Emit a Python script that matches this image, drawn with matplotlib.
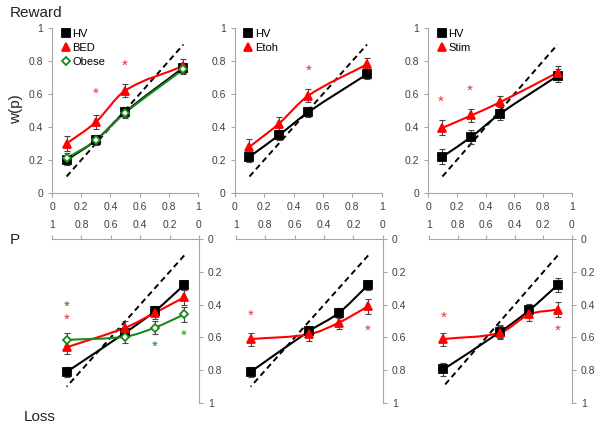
import numpy as np
import matplotlib
matplotlib.use("Agg")
import matplotlib.pyplot as plt
from matplotlib.path import Path
from matplotlib.patches import PathPatch
from matplotlib.ticker import FuncFormatter, MultipleLocator

plt.rcParams['font.family'] = ['Liberation Sans', 'DejaVu Sans']

# %% data: probabilities and weighted probabilities
p = [0.1, 0.3, 0.5, 0.9]

# reward (gains)
gain_hv_bed = [0.20, 0.32, 0.49, 0.76]
gain_bed = [0.30, 0.43, 0.62, 0.77]
gain_obese = [0.21, 0.32, 0.485, 0.75]
gain_hv_etoh = [0.22, 0.35, 0.49, 0.72]
gain_etoh = [0.28, 0.42, 0.59, 0.78]
gain_hv_stim = [0.22, 0.34, 0.48, 0.71]
gain_stim = [0.395, 0.47, 0.55, 0.73]

# loss
loss_hv_bed = [0.28, 0.44, 0.57, 0.81]
loss_bed = [0.355, 0.45, 0.54, 0.66]
loss_obese = [0.46, 0.54, 0.595, 0.615]
loss_hv_etoh = [0.28, 0.45, 0.56, 0.81]
loss_etoh = [0.41, 0.51, 0.58, 0.61]
loss_hv_stim = [0.28, 0.435, 0.565, 0.795]
loss_stim = [0.43, 0.46, 0.57, 0.61]

# error bars
err_small = [0.03, 0.03, 0.03, 0.03]
err_big = [0.045, 0.04, 0.04, 0.04]

# significance stars (p, w, colour)
stars_gain_bed = [(0.3, 0.60, 'r'), (0.5, 0.77, 'r')]
stars_gain_etoh = [(0.5, 0.74, 'r')]
stars_gain_stim = [(0.09, 0.555, 'r'), (0.29, 0.62, 'r')]
stars_loss_bed = [(0.9, 0.41, 'g'), (0.9, 0.49, 'r'), (0.3, 0.655, 'g'), (0.1, 0.59, 'g')]
stars_loss_etoh = [(0.9, 0.47, 'r'), (0.1, 0.56, 'r')]
stars_loss_stim = [(0.9, 0.48, 'r'), (0.1, 0.56, 'r')]

GREY = '#a6a6a6'
TXT = '#404040'
GREEN = '#1a8a1a'


def smooth(ax, x, y, color):
    # smoothed line through the points (hermite -> bezier)
    x = np.asarray(x, float)
    y = np.asarray(y, float)
    n = len(x)
    m = np.empty(n)
    m[0] = (y[1] - y[0]) / (x[1] - x[0])
    m[-1] = (y[-1] - y[-2]) / (x[-1] - x[-2])
    for i in range(1, n - 1):
        m[i] = (y[i + 1] - y[i - 1]) / (x[i + 1] - x[i - 1])
    verts = [(x[0], y[0])]
    codes = [Path.MOVETO]
    for i in range(n - 1):
        h = (x[i + 1] - x[i]) / 3
        verts += [(x[i] + h, y[i] + m[i] * h), (x[i + 1] - h, y[i + 1] - m[i + 1] * h),
                  (x[i + 1], y[i + 1])]
        codes += [Path.CURVE4] * 3
    ax.add_patch(PathPatch(Path(verts, codes), fill=False, ec=color, lw=1.5, zorder=2))


def series(ax, y, err, color, marker, label, mfc=None, ms=5.5):
    smooth(ax, p, y, color)
    ax.errorbar(p, y, yerr=err, fmt='none', ecolor='#444444', elinewidth=0.8,
                capsize=2, capthick=0.8, zorder=3)
    ax.plot(p, y, ls='none', marker=marker, color=color, ms=ms,
            mfc=mfc if mfc else color, mew=1.3, label=label, zorder=4)


def style(ax, loss=False):
    ax.set_xlim(0, 1)
    ax.set_ylim(0, 1)
    ax.xaxis.set_major_locator(MultipleLocator(0.2))
    ax.yaxis.set_major_locator(MultipleLocator(0.2))
    fmt = FuncFormatter(lambda v, _: '%g' % round(v, 2))
    ax.xaxis.set_major_formatter(fmt)
    ax.yaxis.set_major_formatter(fmt)
    for s in ax.spines.values():
        s.set_color(GREY)
    if loss:
        ax.invert_xaxis()
        ax.invert_yaxis()
        ax.spines['bottom'].set_visible(False)
        ax.spines['left'].set_visible(False)
        ax.xaxis.tick_top()
        ax.yaxis.tick_right()
    else:
        ax.spines['top'].set_visible(False)
        ax.spines['right'].set_visible(False)
    ax.tick_params(colors=GREY, labelcolor=TXT, labelsize=7.5, length=3, width=0.8)
    ax.plot([0.1, 0.9], [0.1, 0.9], ls='--', color='k', lw=1.4, dashes=(3, 2), zorder=1)


def stars(ax, lst):
    for x, y, c in lst:
        ax.text(x, y, '*', color={'r': '#e8303a', 'g': GREEN}[c], fontsize=11,
                ha='center', va='center', zorder=5)


def legend(ax):
    ax.legend(loc='upper left', bbox_to_anchor=(0.04, 1.02), frameon=False,
              handlelength=0.6, handletextpad=0.3, fontsize=8, labelspacing=0.35,
              borderaxespad=0)


fig = plt.figure(figsize=(6.02, 4.28), dpi=100)

top_rects = [(0.0864, 0.549, 0.2425, 0.3855), (0.390, 0.549, 0.244, 0.3855),
             (0.711, 0.549, 0.239, 0.3855)]
bot_rects = [(0.0864, 0.0584, 0.244, 0.383), (0.392, 0.0584, 0.244, 0.383),
             (0.7126, 0.0584, 0.2375, 0.383)]

# reward row
ax = fig.add_axes(top_rects[0])
style(ax)
series(ax, gain_hv_bed, err_small, 'k', 's', 'HV')
series(ax, gain_bed, err_big, 'r', '^', 'BED')
series(ax, gain_obese, err_small, GREEN, 'D', 'Obese', mfc='white', ms=4.5)
stars(ax, stars_gain_bed)
legend(ax)

ax = fig.add_axes(top_rects[1])
style(ax)
series(ax, gain_hv_etoh, err_small, 'k', 's', 'HV')
series(ax, gain_etoh, err_big, 'r', '^', 'Etoh')
stars(ax, stars_gain_etoh)
legend(ax)

ax = fig.add_axes(top_rects[2])
style(ax)
series(ax, gain_hv_stim, err_big, 'k', 's', 'HV')
series(ax, gain_stim, err_big, 'r', '^', 'Stim')
stars(ax, stars_gain_stim)
legend(ax)

# loss row
ax = fig.add_axes(bot_rects[0])
style(ax, loss=True)
series(ax, loss_hv_bed, err_small, 'k', 's', 'HV')
series(ax, loss_bed, err_big, 'r', '^', 'BED')
series(ax, loss_obese, err_big, GREEN, 'D', 'Obese', mfc='white', ms=4.5)
stars(ax, stars_loss_bed)

ax = fig.add_axes(bot_rects[1])
style(ax, loss=True)
series(ax, loss_hv_etoh, err_small, 'k', 's', 'HV')
series(ax, loss_etoh, err_big, 'r', '^', 'Etoh')
stars(ax, stars_loss_etoh)

ax = fig.add_axes(bot_rects[2])
style(ax, loss=True)
series(ax, loss_hv_stim, err_big, 'k', 's', 'HV')
series(ax, loss_stim, err_big, 'r', '^', 'Stim')
stars(ax, stars_loss_stim)

fig.text(0.017, 0.985, 'Reward', fontsize=11, va='top', ha='left', color='#222222')
fig.text(0.027, 0.745, 'w(p)', fontsize=11, rotation=90, va='center', ha='center', color='#222222')
fig.text(0.017, 0.44, 'P', fontsize=11, va='center', ha='left', color='#222222')
fig.text(0.04, 0.01, 'Loss', fontsize=11, va='bottom', ha='left', color='#222222')

fig.savefig('out.png', dpi=100)
